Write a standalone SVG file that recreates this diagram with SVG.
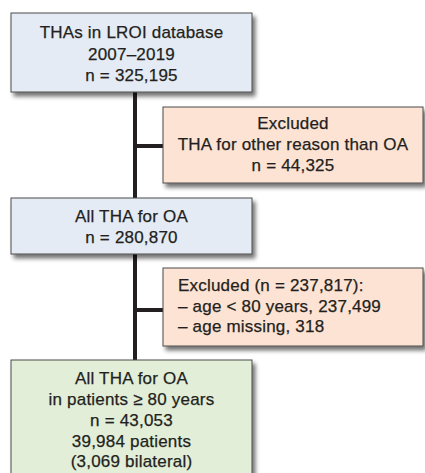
<svg xmlns="http://www.w3.org/2000/svg" width="425" height="473" viewBox="0 0 425 473">
<defs>
<filter id="sh" x="-10%" y="-10%" width="130%" height="140%">
<feGaussianBlur in="SourceAlpha" stdDeviation="2"/>
<feOffset dx="3" dy="4" result="b"/>
<feComponentTransfer><feFuncA type="linear" slope="0.55"/></feComponentTransfer>
<feMerge><feMergeNode/><feMergeNode in="SourceGraphic"/></feMerge>
</filter>
<style>
.box{stroke:#4a4a4a;stroke-width:1;filter:url(#sh)}
.blue{fill:#e4ebf5}
.peach{fill:#fde3d3}
.green{fill:#e2eed7}
text{font-family:"Liberation Sans",Arial,sans-serif;font-size:17px;fill:#231f20;stroke:#231f20;stroke-width:0.25;letter-spacing:0.2px}
.c{text-anchor:middle}
.conn{stroke:#231f20;stroke-width:4;fill:none}
</style>
</defs>
<rect width="425" height="473" fill="#ffffff"/>
<g id="connectors">
<line class="conn" x1="135" y1="92" x2="135" y2="360"/>
<line class="conn" x1="135" y1="146" x2="163" y2="146"/>
<line class="conn" x1="135" y1="310" x2="163" y2="310"/>
</g>
<g id="n1">
<rect class="box blue" x="11" y="13" width="241" height="79"/>
<text class="c" x="131.5" y="38">THAs in LROI database</text>
<text class="c" x="131.5" y="60">2007–2019</text>
<text class="c" x="131.5" y="81">n = 325,195</text>
</g>
<g id="n2">
<rect class="box peach" x="163" y="107" width="260" height="76"/>
<text class="c" x="293" y="129">Excluded</text>
<text class="c" x="293" y="150">THA for other reason than OA</text>
<text class="c" x="293" y="171">n = 44,325</text>
</g>
<g id="n3">
<rect class="box blue" x="11" y="198" width="241" height="56"/>
<text class="c" x="131.5" y="222">All THA for OA</text>
<text class="c" x="131.5" y="243">n = 280,870</text>
</g>
<g id="n4">
<rect class="box peach" x="163" y="268" width="260" height="78"/>
<text x="178" y="291">Excluded (n = 237,817):</text>
<text x="178" y="312">– age &lt; 80 years, 237,499</text>
<text x="178" y="332">– age missing, 318</text>
</g>
<g id="n5">
<rect class="box green" x="11" y="360" width="241" height="120"/>
<text class="c" x="131.5" y="384">All THA for OA</text>
<text class="c" x="131.5" y="405">in patients ≥ 80 years</text>
<text class="c" x="131.5" y="426">n = 43,053</text>
<text class="c" x="131.5" y="447">39,984 patients</text>
<text class="c" x="131.5" y="467">(3,069 bilateral)</text>
</g>
</svg>
